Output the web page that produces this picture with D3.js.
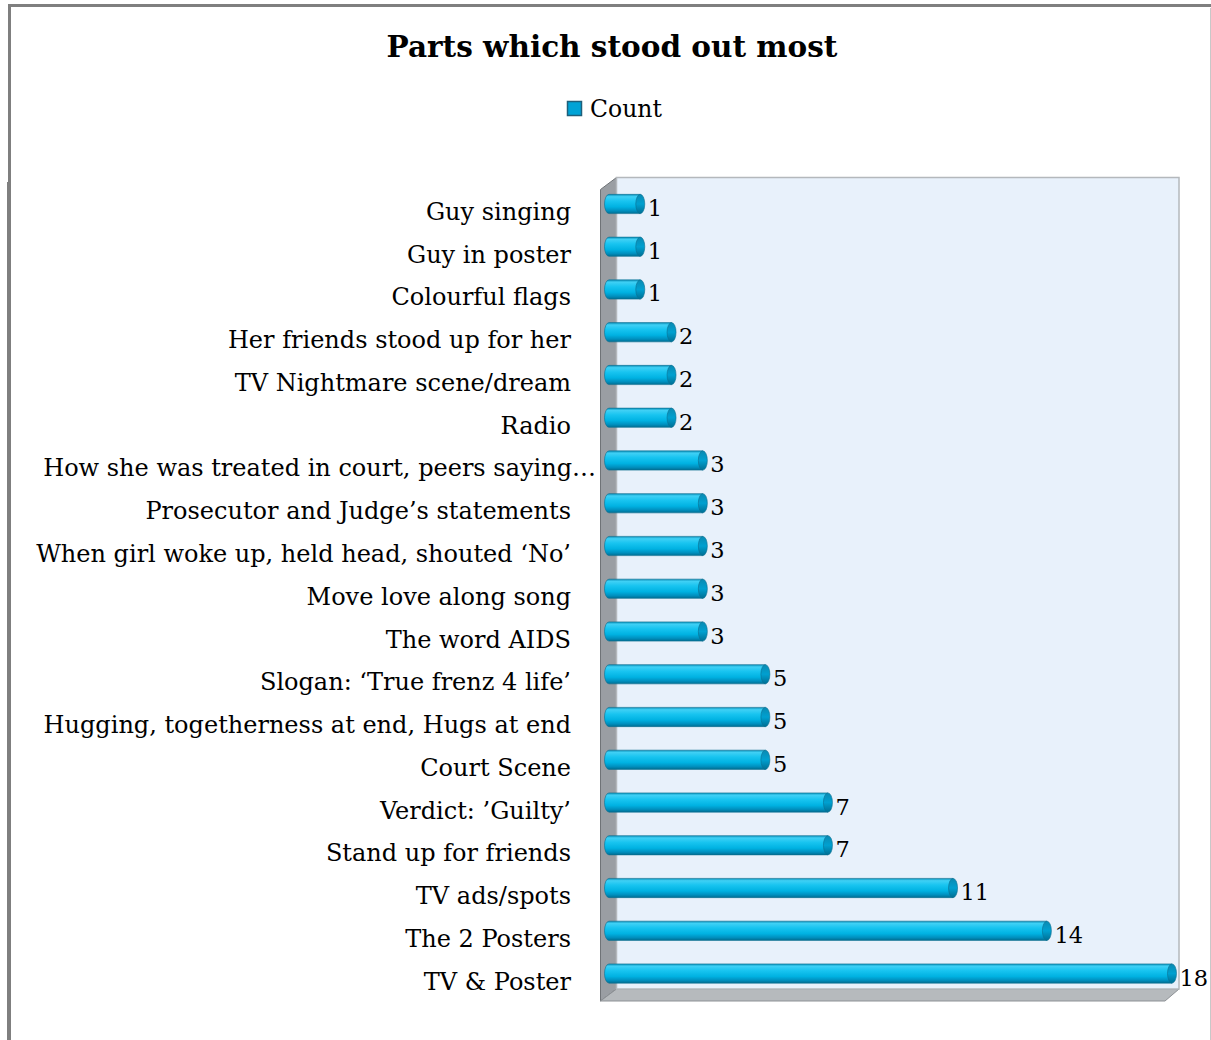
<!DOCTYPE html>
<html><head><meta charset="utf-8">
<script src="https://cdn.jsdelivr.net/npm/d3@7"></script>
<style>html,body{margin:0;padding:0;background:#fff;}svg{display:block;}</style>
</head><body>
<script>
const categories = ["Guy singing","Guy in poster","Colourful flags","Her friends stood up for her","TV Nightmare scene/dream","Radio","How she was treated in court, peers saying…","Prosecutor and Judge’s statements","When girl woke up, held head, shouted ‘No’","Move love along song","The word AIDS","Slogan: ‘True frenz 4 life’","Hugging, togetherness at end, Hugs at end","Court Scene","Verdict: ’Guilty’","Stand up for friends","TV ads/spots","The 2 Posters","TV & Poster"];
const counts = [1,1,1,2,2,2,3,3,3,3,3,5,5,5,7,7,11,14,18];
const seriesName = "Count";
const titleText = "Parts which stood out most";

const W = 1211, H = 1040;
const FONT = "'DejaVu Serif', serif";
const svg = d3.select("body").append("svg").attr("width", W).attr("height", H);
const defs = svg.append("defs");

const body = defs.append("linearGradient").attr("id","cyl").attr("x1",0).attr("y1",0).attr("x2",0).attr("y2",1);
[[0,"#0a8fb8"],[0.12,"#3fd0f5"],[0.35,"#18c4f0"],[0.65,"#00b2e2"],[0.85,"#0090bf"],[1,"#006e92"]].forEach(s=>body.append("stop").attr("offset",s[0]).attr("stop-color",s[1]));
const cap = defs.append("linearGradient").attr("id","cap").attr("x1",0).attr("y1",0).attr("x2",0).attr("y2",1);
[[0,"#0a8ab2"],[0.5,"#00a0d0"],[1,"#006f94"]].forEach(s=>cap.append("stop").attr("offset",s[0]).attr("stop-color",s[1]));

// frame
svg.append("rect").attr("x",9.5).attr("y",5.5).attr("width",1210).attr("height",1040).attr("fill","none").attr("stroke","#7f7f7f").attr("stroke-width",3);
svg.append("line").attr("x1",7.5).attr("x2",7.5).attr("y1",182).attr("y2",H).attr("stroke","#7f7f7f").attr("stroke-width",1);
svg.append("line").attr("x1",1210.5).attr("x2",1210.5).attr("y1",8).attr("y2",H).attr("stroke","#c8c8c8").attr("stroke-width",1);

// title
svg.append("text").attr("x",612).attr("y",57).attr("text-anchor","middle").attr("font-family",FONT).attr("font-weight","bold").attr("font-size",29.5).attr("fill","#000").text(titleText);

// legend
svg.append("rect").attr("x",567.5).attr("y",101.5).attr("width",14).attr("height",14).attr("fill","#00a3d6").attr("stroke","#1f5f7a").attr("stroke-width",1.5);
svg.append("text").attr("x",590).attr("y",117).attr("font-family",FONT).attr("font-size",23.5).attr("fill","#000").text(seriesName);

// scales
const x = d3.scaleLinear().domain([0,18]).range([609,1172]);
const y = d3.scaleBand().domain(categories).range([182.6,994.9]).paddingInner(0.55).paddingOuter(0.275);

// 3D walls
const backL = 616.5, backR = 1179, backT = 177.5, backB = 989, dx = 16, dy = 12;
svg.append("path").attr("d",`M${backL-dx},${backT+dy} L${backL},${backT} L${backL},${backB} L${backL-dx},${backB+dy} Z`).attr("fill","#9a9ea3").attr("stroke","#6f7377").attr("stroke-width",1);
svg.append("path").attr("d",`M${backL-dx},${backB+dy} L${backL},${backB} L${backR},${backB} L${backR-dx+2},${backB+dy} Z`).attr("fill","#b6babd").attr("stroke","#8d9195").attr("stroke-width",1);
svg.append("rect").attr("x",backL).attr("y",backT).attr("width",backR-backL).attr("height",backB-backT).attr("fill","#e8f1fb").attr("stroke","#b4b8bc").attr("stroke-width",1.5);

// bars
const rx = 4.5;
const bars = svg.append("g").selectAll("g").data(categories).join("g");
bars.append("path").attr("d",(d,i)=>{
  const y0=y(d), h=y.bandwidth(), x0=x(0), x1=x(counts[i]);
  return `M${x0},${y0} L${x1},${y0} L${x1},${y0+h} L${x0},${y0+h} A${rx},${h/2} 0 0 1 ${x0},${y0} Z`;
}).attr("fill","url(#cyl)").attr("stroke","#0b6f90").attr("stroke-width",0.6);
bars.append("ellipse").attr("cx",(d,i)=>x(counts[i])).attr("cy",d=>y(d)+y.bandwidth()/2).attr("rx",rx).attr("ry",y.bandwidth()/2).attr("fill","url(#cap)").attr("stroke","#0b6f90").attr("stroke-width",0.6);

// value labels
bars.append("text").attr("x",(d,i)=>x(counts[i])+rx+3).attr("y",d=>y(d)+y.bandwidth()/2+12).attr("font-family",FONT).attr("font-size",22.5).attr("fill","#000").text((d,i)=>counts[i]);

// category labels
svg.append("g").selectAll("text").data(categories).join("text")
  .attr("x",d=>d.endsWith("…")?596:571).attr("y",d=>y(d)+y.bandwidth()/2+16)
  .attr("text-anchor","end").attr("font-family",FONT).attr("font-size",24).attr("fill","#000").text(d=>d);
</script>
</body></html>
